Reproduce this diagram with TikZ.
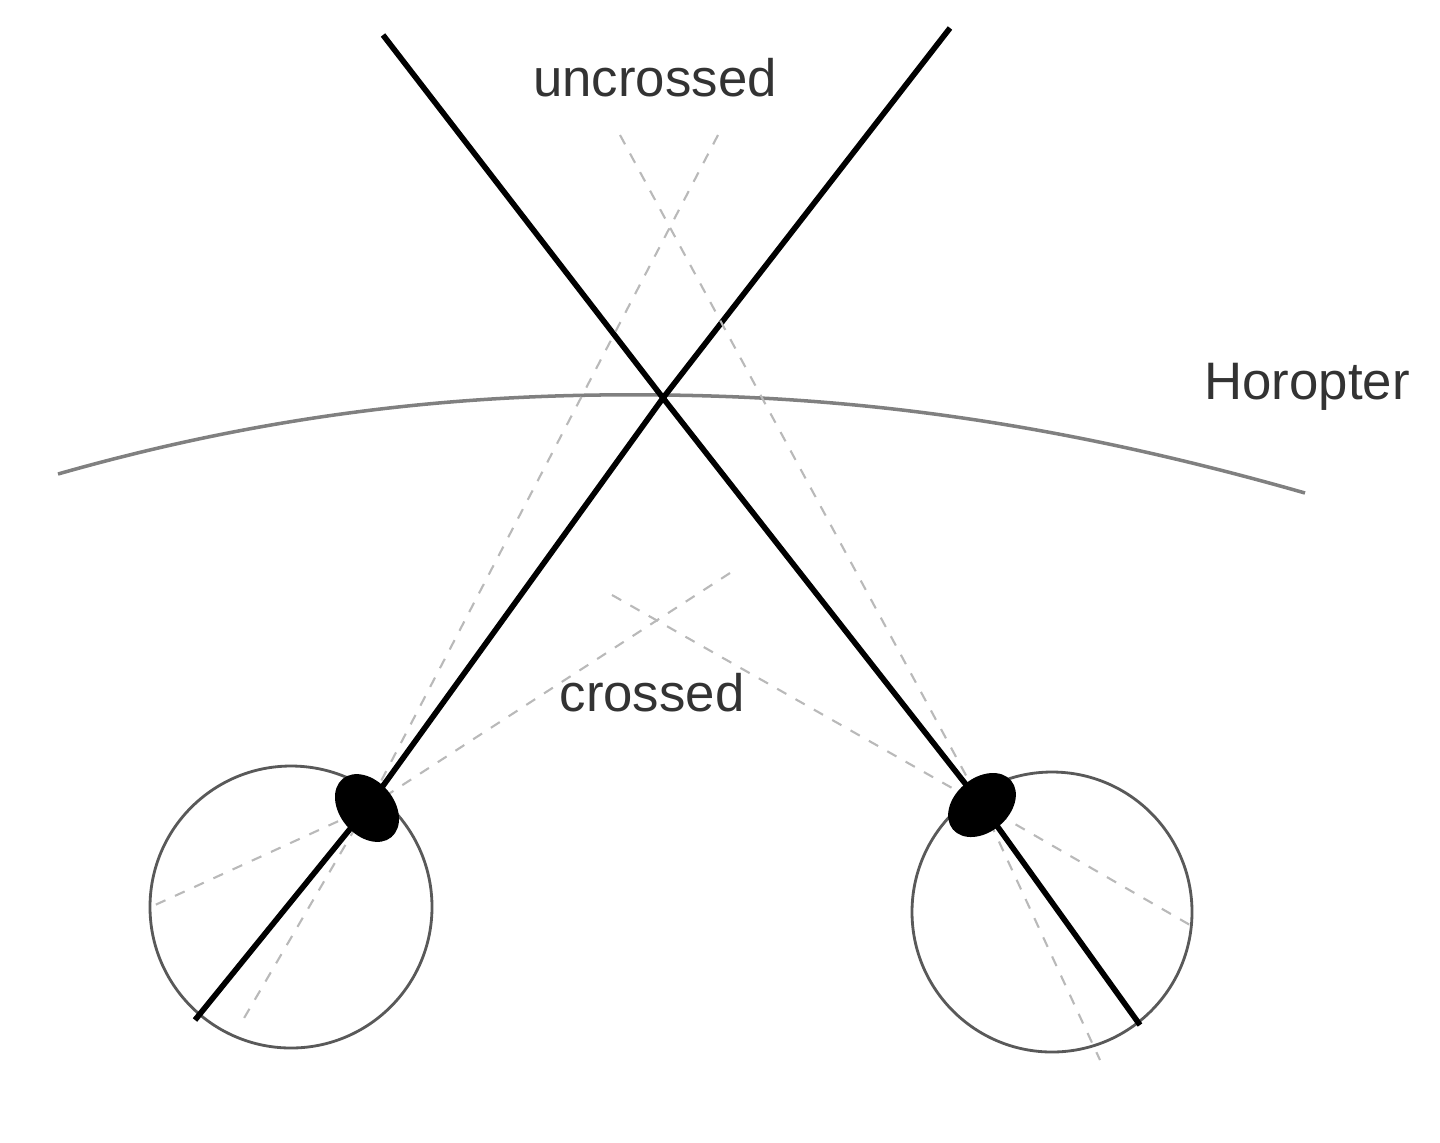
\documentclass[tikz,border=0pt]{standalone}
\usepackage{fontspec}
\setmainfont{Liberation Sans}
\begin{document}
\begin{tikzpicture}[x=0.01cm, y=-0.01cm, thick,
  sight/.style={line width=1.6pt, black},
  ghost/.style={dashed, gray!55, line width=0.6pt},
  eyeball/.style={gray!70!black, line width=0.8pt},
  lbl/.style={font=\fontsize{15}{18}\selectfont, text=black!80}]
\useasboundingbox (0,0) rectangle (1440,1142);

% fixation point, eyes and the two ghost points
\coordinate (fix) at (663,398);
\coordinate (lpupil) at (367,808);
\coordinate (rpupil) at (982,805);
\coordinate (ua) at (620,135);
\coordinate (ub) at (718,135);
\coordinate (ca) at (612,595);
\coordinate (cb) at (730,573);

% horopter
\draw[gray, line width=1pt] (58,474) .. controls (300,405) and (500,393) .. (663,395)
  .. controls (850,397) and (1050,420) .. (1305,493);

% eyes
\draw[eyeball] (291,907) circle (141);
\draw[eyeball] (1052,912) circle (140);

% lines of sight
\draw[sight] (383,35) -- (fix) -- (rpupil) -- (1140,1025);
\draw[sight] (950,28) -- (fix) -- (lpupil) -- (195,1020);

% uncrossed / crossed lines
\draw[ghost] (ub) -- (lpupil) -- (240,1025);
\draw[ghost] (ua) -- (rpupil) -- (1100,1060);
\draw[ghost] (cb) -- (lpupil) -- (155,905);
\draw[ghost] (ca) -- (rpupil) -- (1190,925);

% pupils
\fill[black, rotate around={-50:(lpupil)}] (lpupil) ellipse (38 and 27);
\fill[black, rotate around={40:(rpupil)}] (rpupil) ellipse (38 and 27);

\node[lbl] (uncr) at (655,78) {uncrossed};
\node[lbl] (cr) at (652,693) {crossed};
\node[lbl] (horo) at (1307,387) {Horopter};
\end{tikzpicture}
\end{document}
